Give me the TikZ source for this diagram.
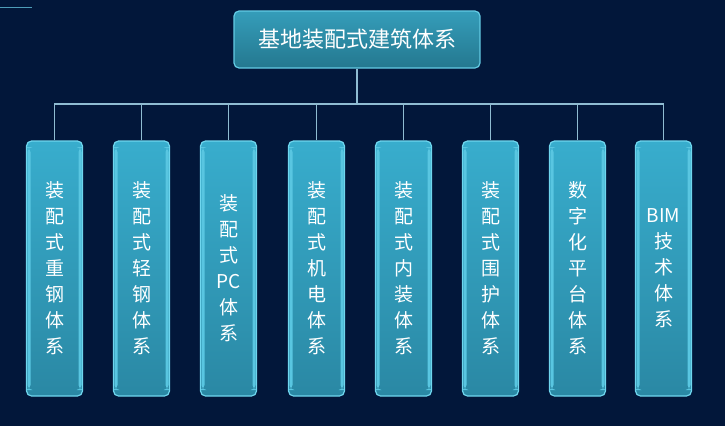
\documentclass[tikz,border=0pt]{standalone}
\usepackage{fontspec}
\newfontfamily\cjk{Noto Sans CJK SC}
\definecolor{bgc}{HTML}{02173A}
\definecolor{boxtop}{HTML}{38ADCD}
\definecolor{boxbot}{HTML}{2A88A4}
\definecolor{boxedge}{HTML}{6FD6EE}
\definecolor{ttop}{HTML}{359DBA}
\definecolor{tbot}{HTML}{24788F}
\definecolor{linec}{HTML}{8FBCD2}
\tikzset{
  sub/.style={rounded corners=5pt, top color=boxtop, bottom color=boxbot, draw=boxedge, line width=1.2pt,
    minimum width=56pt, minimum height=255pt, inner sep=0pt, align=center, text=white,
    font=\cjk\fontsize{19}{26}\selectfont,
    path picture={\fill[boxedge!60!boxtop] ([xshift=1pt,yshift=-6pt]path picture bounding box.north west) rectangle ([xshift=4pt,yshift=6pt]path picture bounding box.south west);
                  \fill[boxedge!60!boxtop] ([xshift=-1pt,yshift=-6pt]path picture bounding box.north east) rectangle ([xshift=-4pt,yshift=6pt]path picture bounding box.south east);}},
  topbox/.style={rounded corners=5pt, top color=ttop, bottom color=tbot, draw=boxedge!80!ttop, line width=1.2pt,
    minimum width=246pt, minimum height=57pt, inner sep=0pt, text=white,
    font=\cjk\fontsize{22}{26}\selectfont},
  conn/.style={draw=linec, line width=1.6pt}
}
\begin{document}
\begin{tikzpicture}[x=1pt,y=-1pt]
\fill[bgc] (0,0) rectangle (725,426);
\useasboundingbox (0,0) rectangle (725,426);
\draw[draw=boxedge!70!bgc, line width=1pt] (0,7) -- (32,7);
\node[topbox] (top) at (357,39.5) {基地装配式建筑体系};
\coordinate (bar) at (357,104);
\node[sub] (b1) at (54.5,268.5) {装\\配\\式\\重\\钢\\体\\系};
\node[sub] (b2) at (141.5,268.5) {装\\配\\式\\轻\\钢\\体\\系};
\node[sub] (b3) at (228.5,268.5) {装\\配\\式\\PC\\体\\系};
\node[sub] (b4) at (316.5,268.5) {装\\配\\式\\机\\电\\体\\系};
\node[sub] (b5) at (403.5,268.5) {装\\配\\式\\内\\装\\体\\系};
\node[sub] (b6) at (490.5,268.5) {装\\配\\式\\围\\护\\体\\系};
\node[sub] (b7) at (577.5,268.5) {数\\字\\化\\平\\台\\体\\系};
\node[sub] (b8) at (663.5,268.5) {BIM\\技\\术\\体\\系};
\draw[conn] (top.south) -- (bar);
\draw[conn] (b1.north) -- (b1.north |- bar) -- (b8.north |- bar) -- (b8.north);
\foreach \b in {b2,b3,b4,b5,b6,b7} \draw[conn] (\b.north) -- (\b.north |- bar);
\end{tikzpicture}
\end{document}
